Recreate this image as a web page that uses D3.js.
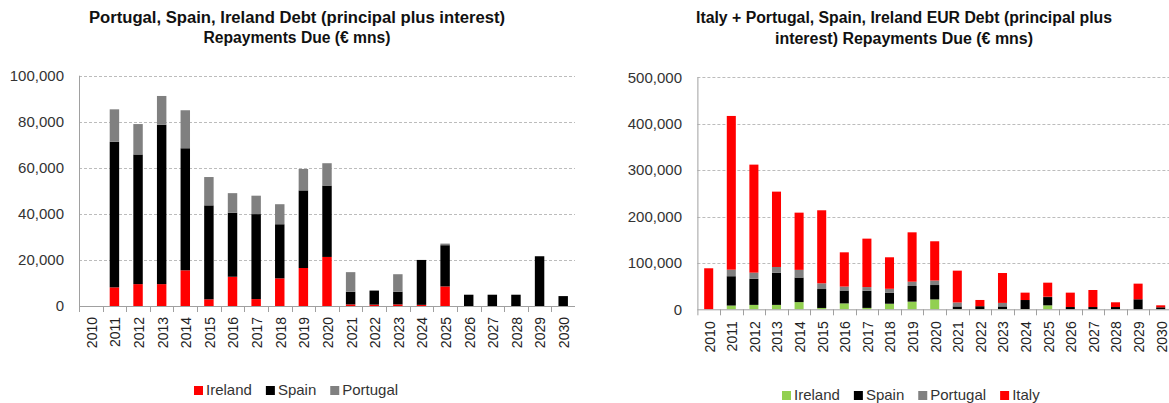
<!DOCTYPE html>
<html>
<head>
<meta charset="utf-8">
<script src="https://cdn.jsdelivr.net/npm/d3@7"></script>
<style>
  html, body { margin: 0; padding: 0; background: #fff; }
  svg { display: block; }
  text { font-family: "Liberation Sans", Arial, sans-serif; }
</style>
</head>
<body>
<svg id="chart" width="1169" height="403"></svg>
<script>
// ---------- DATA ----------
const years = ["2010","2011","2012","2013","2014","2015","2016","2017","2018","2019","2020",
               "2021","2022","2023","2024","2025","2026","2027","2028","2029","2030"];
const ireland  = [0, 8100, 9500, 9500, 15500, 2900, 12700, 3000, 12000, 16500, 21300,
                  700, 600, 700, 500, 8500, 0, 0, 0, 0, 0];
const spain    = [0, 63200, 56300, 69200, 53000, 40800, 27800, 36900, 23500, 33700, 31000,
                  5500, 6100, 5500, 19500, 17900, 4900, 4900, 4900, 21600, 4300];
const portugal = [0, 14100, 13200, 12500, 16500, 12300, 8500, 8000, 8700, 9300, 9700,
                  8500, 0, 7600, 0, 700, 0, 0, 0, 0, 0];
const italy    = [88400, 331300, 232800, 162400, 123300, 157400, 73800, 104400, 67900, 106400, 84600,
                  68600, 13400, 64400, 15900, 30300, 31000, 36700, 10200, 33700, 4300];
const leftTicks  = [0, 20000, 40000, 60000, 80000, 100000];
const rightTicks = [0, 100000, 200000, 300000, 400000, 500000];
const leftTitle  = ["Portugal, Spain, Ireland Debt (principal plus interest)", "Repayments Due (\u20ac mns)"];
const rightTitle = ["Italy + Portugal, Spain, Ireland EUR Debt (principal plus", "interest) Repayments Due (\u20ac mns)"];

const colors = { Ireland: "#ff0000", Spain: "#000000", Portugal: "#808080", Italy: "#ff0000" };
const rightColors = { Ireland: "#92d050", Spain: "#000000", Portugal: "#808080", Italy: "#ff0000" };

const svg = d3.select("#chart");
const fmt = d3.format(",");

function drawChart(cfg) {
  const g = svg.append("g");
  const x = d3.scaleBand().domain(years).range([cfg.x0, cfg.x1]).padding(0);
  const y = d3.scaleLinear().domain([0, cfg.max]).range([cfg.y0, cfg.y1]);
  const step = x.step();
  const bw = step * 0.40;

  // gridlines
  g.selectAll(".grid").data(cfg.ticks.filter(t => t > 0)).enter().append("line")
    .attr("x1", cfg.x0).attr("x2", cfg.x1)
    .attr("y1", d => Math.round(y(d)) + 0.5).attr("y2", d => Math.round(y(d)) + 0.5)
    .attr("stroke", "#bcbcbc").attr("stroke-width", 1).attr("stroke-dasharray", "3,2");

  // stacked data
  const rows = years.map((yr, i) => {
    const o = { year: yr };
    cfg.series.forEach(s => o[s.name] = s.values[i]);
    return o;
  });
  const stack = d3.stack().keys(cfg.series.map(s => s.name))(rows);
  g.selectAll(".layer").data(stack).enter().append("g")
    .attr("fill", d => cfg.colors[d.key])
    .selectAll("rect").data(d => d).enter().append("rect")
    .attr("x", d => x(d.data.year) + (step - bw) / 2)
    .attr("width", bw)
    .attr("y", d => y(d[1]))
    .attr("height", d => Math.max(0, y(d[0]) - y(d[1])));

  // y axis
  const yAxis = d3.axisLeft(y).tickValues(cfg.ticks).tickFormat(fmt).tickSize(0).tickPadding(0);
  const ya = g.append("g").attr("transform", `translate(${cfg.labelRight},0)`).call(yAxis);
  ya.select(".domain").remove();
  ya.selectAll("text").attr("font-size", 15).attr("fill", "#333").attr("font-family", "Liberation Sans, Arial, sans-serif");

  // vertical axis line
  g.append("line").attr("x1", cfg.x0 + 0.5).attr("x2", cfg.x0 + 0.5)
    .attr("y1", y(cfg.max)).attr("y2", cfg.y0 + 6)
    .attr("stroke", "#a0a0a0");
  // x axis line
  g.append("line").attr("x1", cfg.x0).attr("x2", cfg.x1)
    .attr("y1", cfg.y0 + 0.5).attr("y2", cfg.y0 + 0.5).attr("stroke", "#a0a0a0");
  // tick marks at band boundaries
  g.selectAll(".tk").data(years.slice(1)).enter().append("line")
    .attr("x1", d => Math.round(x(d)) + 0.5).attr("x2", d => Math.round(x(d)) + 0.5)
    .attr("y1", cfg.y0).attr("y2", cfg.y0 + 6).attr("stroke", "#a0a0a0");

  // x labels rotated
  g.selectAll(".xl").data(years).enter().append("text")
    .attr("transform", d => `translate(${x(d) + step / 2 + 1},${cfg.y0 + cfg.labelGap}) rotate(-90)`)
    .attr("text-anchor", "end").attr("dy", "0.35em")
    .attr("font-size", 14).attr("fill", "#222").text(d => d);

  // title
  cfg.title.forEach((t, i) => {
    const el = g.append("text").attr("x", cfg.titleX).attr("y", cfg.titleY[i])
      .attr("text-anchor", "middle").attr("font-weight", "bold").attr("font-size", 16)
      .attr("fill", "#111").text(t);
    el.attr("textLength", cfg.titleLen[i]).attr("lengthAdjust", "spacingAndGlyphs");
  });

  // legend
  let lx = cfg.legendX;
  cfg.legend.forEach(name => {
    g.append("rect").attr("x", lx).attr("y", cfg.legendY - 9).attr("width", 9).attr("height", 9)
      .attr("fill", cfg.colors[name]);
    const t = g.append("text").attr("x", lx + 12).attr("y", cfg.legendY)
      .attr("font-size", 15).attr("fill", "#333").text(name);
    lx = lx + 12 + t.node().getComputedTextLength() + 14;
  });
}

drawChart({
  x0: 79, x1: 575, y0: 306, y1: 75.7, max: 100000, ticks: leftTicks,
  labelRight: 64, labelGap: 11,
  series: [{name: "Ireland", values: ireland}, {name: "Spain", values: spain}, {name: "Portugal", values: portugal}],
  colors: colors,
  title: leftTitle, titleX: 297, titleY: [23, 43], titleLen: [416, 187],
  legend: ["Ireland", "Spain", "Portugal"], legendX: 194, legendY: 395
});

drawChart({
  x0: 697.4, x1: 1172, y0: 309.3, y1: 77.3, max: 500000, ticks: rightTicks,
  labelRight: 682, labelGap: 12,
  series: [{name: "Ireland", values: ireland}, {name: "Spain", values: spain}, {name: "Portugal", values: portugal}, {name: "Italy", values: italy}],
  colors: rightColors,
  title: rightTitle, titleX: 904, titleY: [23, 44], titleLen: [416, 258],
  legend: ["Ireland", "Spain", "Portugal", "Italy"], legendX: 782, legendY: 400
});
</script>
</body>
</html>
